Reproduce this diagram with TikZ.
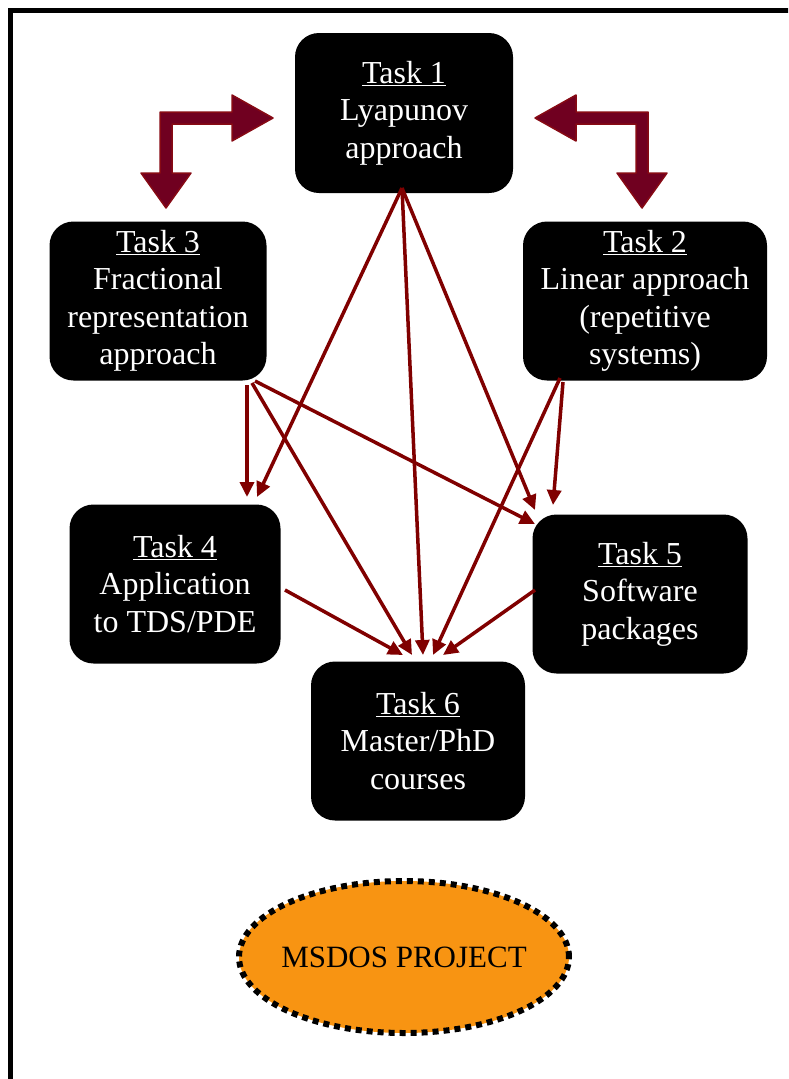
\documentclass[tikz,border=0pt]{standalone}
\usepackage{fontspec}
\setmainfont{Liberation Serif}
\usetikzlibrary{arrows.meta,shapes.geometric}
\definecolor{arrred}{RGB}{128,0,0}
\definecolor{blockfill}{RGB}{112,0,32}
\definecolor{blockedge}{RGB}{135,10,20}
\definecolor{projorange}{RGB}{248,148,18}
\begin{document}
\begin{tikzpicture}[x=1pt,y=-1pt,
 taskbox/.style={fill=black, rounded corners=24pt, text=white, align=center,
   font=\fontsize{32}{37.5}\selectfont, inner sep=0pt},
 link/.style={draw=arrred, line width=3.5pt, -{Triangle[length=15pt,width=14pt]}},
 block/.style={fill=blockfill, draw=blockedge, line width=1.5pt, line join=round}]
\useasboundingbox (0,0) rectangle (788,1079);
\begin{scope}
\clip (0,0) rectangle (788,1079);
\draw[line width=5pt] (10,10) rectangle (830,1120);
\end{scope}

% task boxes
\node[taskbox, minimum width=218pt, minimum height=160pt] (t1) at (404,113) {\underline{Task 1}\\Lyapunov\\approach};
\node[taskbox, minimum width=217pt, minimum height=159pt] (t3) at (158,301) {\underline{Task 3}\\Fractional\\representation\\approach};
\node[taskbox, minimum width=244pt, minimum height=159pt] (t2) at (645,301) {\underline{Task 2}\\Linear approach\\(repetitive\\systems)};
\node[taskbox, minimum width=211pt, minimum height=159pt] (t4) at (175,584) {\underline{Task 4}\\Application\\to TDS/PDE};
\node[taskbox, minimum width=215pt, minimum height=159pt] (t5) at (640,594) {\underline{Task 5}\\Software\\packages};
\node[taskbox, minimum width=214pt, minimum height=159pt] (t6) at (418,741) {\underline{Task 6}\\Master/PhD\\courses};

% project ellipse
\node[ellipse, fill=projorange, draw=black, line width=6pt, dash pattern=on 6pt off 5pt,
  minimum width=330pt, minimum height=152pt, inner xsep=-40pt, inner ysep=0pt,
  font=\fontsize{31}{36}\selectfont] (proj) at (404,957) {MSDOS PROJECT};

% block elbow arrows
\draw[block] (166,208) -- (141,173) -- (160,173) -- (160,112) -- (232,112) -- (232,95)
  -- (273,118) -- (232,141) -- (232,124) -- (172,124) -- (172,173) -- (191,173) -- cycle;
\draw[block] (642,208) -- (667,173) -- (648,173) -- (648,112) -- (576,112) -- (576,95)
  -- (535,118) -- (576,141) -- (576,124) -- (636,124) -- (636,173) -- (617,173) -- cycle;

% connector end points
\coordinate (t1out) at (402,188);
\coordinate (t3outa) at (247,385);
\coordinate (t3outb) at (252,383);
\coordinate (t3outc) at (255,381);
\coordinate (t2outa) at (560,378);
\coordinate (t2outb) at (563,382);
\coordinate (t4out) at (285,590);
\coordinate (t5out) at (535,590);
\coordinate (t4ina) at (247,497);
\coordinate (t4inb) at (257,497);
\coordinate (t5ina) at (535,510);
\coordinate (t5inb) at (535,524);
\coordinate (t5inc) at (553,505);
\coordinate (t6ina) at (403,655);
\coordinate (t6inb) at (412,655);
\coordinate (t6inc) at (423,655);
\coordinate (t6ind) at (433,655);
\coordinate (t6ine) at (443,655);

% thin connectors
\draw[link] (t1out) -- (t4inb);
\draw[link] (t1out) -- (t6inc);
\draw[link] (t1out) -- (t5ina);
\draw[link] (t3outa) -- (t4ina);
\draw[link] (t3outb) -- (t6inb);
\draw[link] (t3outc) -- (t5inb);
\draw[link] (t2outa) -- (t6ind);
\draw[link] (t2outb) -- (t5inc);
\draw[link] (t4out) -- (t6ina);
\draw[link] (t5out) -- (t6ine);
\end{tikzpicture}
\end{document}
